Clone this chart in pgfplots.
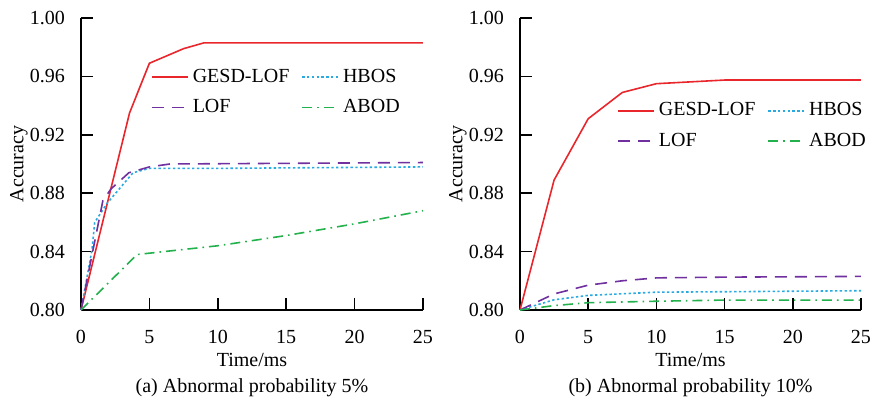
\documentclass[border=0pt]{standalone}
\usepackage{fontspec}
\setmainfont{Liberation Serif}
\usepackage{pgfplots}
\pgfplotsset{compat=1.18}
\definecolor{cRed}{HTML}{E8262B}
\definecolor{cBlue}{HTML}{29ABE2}
\definecolor{cPurple}{HTML}{7030A0}
\definecolor{cGreen}{HTML}{22B14C}
\pgfplotsset{
  accstyle/.style={
    scale only axis, width=171pt, height=146pt,
    xmin=0, xmax=25, ymin=0.80, ymax=1.00,
    axis x line*=bottom, axis y line*=left,
    xtick={0,5,...,25}, ytick={0.80,0.84,...,1.00},
    tick align=inside, major tick length=6pt,
    tick style={black, line width=0.8pt},
    axis line style={black, line width=0.8pt},
    /pgf/number format/assume math mode=true,
    yticklabel style={/pgf/number format/fixed, /pgf/number format/fixed zerofill,
      /pgf/number format/precision=2, xshift=-4.5pt},
    xticklabel style={yshift=-6.5pt},
    tick label style={font=\fontsize{10}{11}\selectfont},
    legend style={draw=none, fill=none, inner sep=0pt, font=\fontsize{10}{11}\selectfont,
      legend columns=2, row sep=3pt,
      /tikz/every even column/.append style={column sep=4pt}},
    legend image code/.code={\draw[#1] (0pt,0pt) -- (18pt,0pt);},
    legend cell align=left,
    clip=false,
  },
  sred/.style={cRed, line width=0.8pt},
  sblue/.style={cBlue, line width=0.8pt, dash pattern=on 1.2pt off 1.2pt},
  spurple/.style={cPurple, line width=0.8pt, dash pattern=on 6pt off 4pt},
  sgreen/.style={cGreen, line width=0.8pt, dash pattern=on 5pt off 2.5pt on 0.8pt off 2.5pt},
}
\begin{document}
\fontsize{10}{11}\selectfont
\begin{tikzpicture}
  \begin{axis}[accstyle, at={(0pt,0pt)},
      legend style={at={(axis cs:5.1,0.968)}, anchor=north west}]
    \addplot[sred] coordinates {(0,0.800) (3.55,0.935) (5,0.969) (7.5,0.979) (9,0.983) (25,0.983)};
    \addlegendentry{GESD-LOF}
    \addplot[sblue] coordinates {(0,0.800) (0.8,0.841) (1.0,0.860) (1.9,0.873) (3.8,0.894) (5,0.897) (10,0.897) (25,0.898)};
    \addlegendentry{HBOS}
    \addplot[spurple] coordinates {(0,0.800) (1.6,0.875) (2.2,0.883) (3.5,0.894) (5,0.898) (6.5,0.900) (25,0.901)};
    \addlegendentry{LOF}
    \addplot[sgreen] coordinates {(0,0.800) (4.1,0.838) (10,0.844) (15,0.851) (20,0.859) (25,0.868)};
    \addlegendentry{ABOD}
    \node[rotate=90] at ([xshift=-31pt]rel axis cs:0,0.5) {Accuracy};
    \node at ([yshift=-25pt]rel axis cs:0.5,0) {Time/ms};
    \node at ([yshift=-39pt]rel axis cs:0.5,0) {(a) Abnormal probability 5\%};
  \end{axis}
  \begin{axis}[accstyle, at={(219.5pt,0pt)}, width=170.5pt,
      legend style={at={(axis cs:7.1,0.945)}, anchor=north west}]
    \addplot[sred] coordinates {(0,0.800) (2.5,0.889) (5,0.931) (7.5,0.949) (10,0.955) (15,0.9575) (25,0.9575)};
    \addlegendentry{GESD-LOF}
    \addplot[sblue] coordinates {(0,0.800) (2.5,0.807) (5,0.810) (10,0.8122) (15,0.8125) (25,0.8132)};
    \addlegendentry{HBOS}
    \addplot[spurple] coordinates {(0,0.800) (2.5,0.811) (5,0.817) (7.5,0.820) (10,0.822) (15,0.8225) (25,0.823)};
    \addlegendentry{LOF}
    \addplot[sgreen] coordinates {(0,0.800) (2.5,0.803) (5,0.805) (10,0.806) (15,0.8068) (25,0.8068)};
    \addlegendentry{ABOD}
    \node[rotate=90] at ([xshift=-31pt]rel axis cs:0,0.5) {Accuracy};
    \node at ([yshift=-25pt]rel axis cs:0.5,0) {Time/ms};
    \node at ([yshift=-39pt]rel axis cs:0.5,0) {(b) Abnormal probability 10\%};
  \end{axis}
  \pgfresetboundingbox
  \path[use as bounding box] (-40.5pt,-45pt) rectangle (397pt,155pt);
\end{tikzpicture}
\end{document}
